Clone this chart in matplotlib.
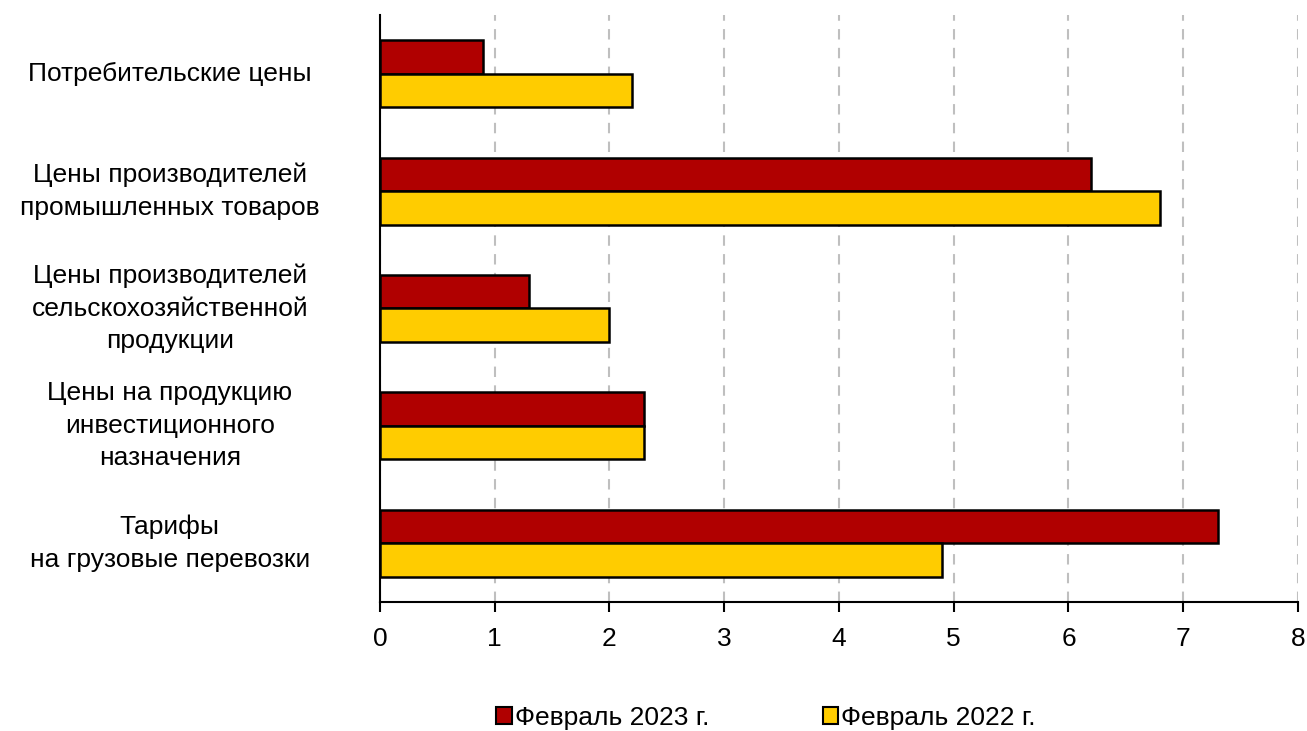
import numpy as np
import matplotlib.pyplot as plt
from matplotlib.patches import Patch
from matplotlib.transforms import blended_transform_factory

plt.rcParams['font.family'] = ['Liberation Sans', 'DejaVu Sans']

categories = ["Потребительские цены",
              "Цены производителей\nпромышленных товаров",
              "Цены производителей\nсельскохозяйственной\nпродукции",
              "Цены на продукцию\nинвестиционного\nназначения",
              "Тарифы\nна грузовые перевозки"]
feb2023 = [0.9, 6.2, 1.3, 2.3, 7.3]
feb2022 = [2.2, 6.8, 2.0, 2.3, 4.9]
series_names = ["Февраль 2023 г.", "Февраль 2022 г."]
red = '#B00000'
yellow = '#FFCC00'

fig = plt.figure(figsize=(13.07, 7.31), dpi=100)
ax = fig.add_axes([0.2907, 0.1765, 0.7024, 0.803])

y = np.arange(len(categories))
h = 0.285
ax.barh(y - h/2, feb2023, height=h, color=red, edgecolor='black', linewidth=1.8, zorder=3)
ax.barh(y + h/2, feb2022, height=h, color=yellow, edgecolor='black', linewidth=1.8, zorder=3)

ax.set_xlim(0, 8)
ax.set_ylim(4.5, -0.5)
ax.set_xticks(range(0, 9))
ax.tick_params(axis='x', labelsize=19, direction='out', length=7, width=1.5, pad=11)
ax.set_yticks([])
ax.grid(axis='x', color='#BFBFBF', linestyle=(0, (5, 4)), linewidth=1.5, zorder=0)
for s in ['top', 'right']:
    ax.spines[s].set_visible(False)
ax.spines['left'].set_linewidth(1.5)
ax.spines['bottom'].set_linewidth(1.5)

tr = blended_transform_factory(ax.transAxes, ax.transData)
for yi, lab in zip(y, categories):
    ax.text(-0.229, yi, lab, transform=tr, ha='center', va='center',
            multialignment='center', fontsize=19, linespacing=1.45)

handles = [Patch(facecolor=red, edgecolor='black', linewidth=1.5),
           Patch(facecolor=yellow, edgecolor='black', linewidth=1.5)]
fig.legend(handles, series_names, loc='center', bbox_to_anchor=(0.586, 0.018),
           ncol=2, frameon=False, fontsize=19, handlelength=0.6, handleheight=0.6,
           handletextpad=0.1, columnspacing=4.3)

fig.savefig('out.png', dpi=100)
